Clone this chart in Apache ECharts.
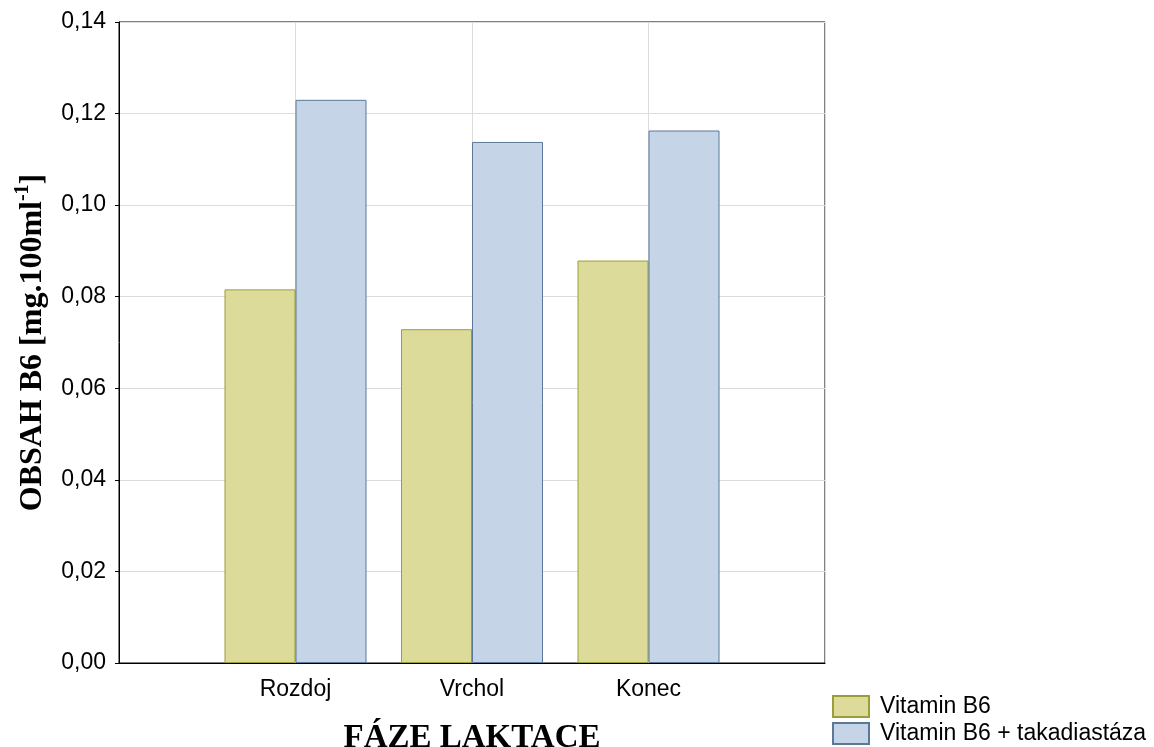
<!DOCTYPE html>
<html>
<head>
<meta charset="utf-8">
<script src="https://cdn.jsdelivr.net/npm/echarts@6/dist/echarts.min.js"></script>
<style>
  html, body { margin: 0; padding: 0; background: #fff; }
  #chart { width: 1154px; height: 747px; }
</style>
</head>
<body>
<div id="chart"></div>
<script>
// Lactation phases and vitamin B6 content (mg per 100 ml)
const categories = ['Rozdoj', 'Vrchol', 'Konec'];
const vitaminB6 = [0.0816, 0.0729, 0.0879];
const vitaminB6Taka = [0.1230, 0.1138, 0.1163];
const seriesNames = ['Vitamin B6', 'Vitamin B6 + takadiastáza'];
const yTicks = [0, 0.02, 0.04, 0.06, 0.08, 0.10, 0.12, 0.14];

// Categories sit at positions 1..n on a 0..n+1 value axis
const pos = categories.map((c, i) => i + 1);

const sans = 'Liberation Sans, Arial, sans-serif';
const serif = 'Liberation Serif, Times New Roman, serif';
const colors = [
  { color: '#dddb99', borderColor: '#9c9c38' },
  { color: '#c5d5e7', borderColor: '#5b7898' }
];

// One legend block per series, stacked in the lower right corner
const legendTops = [695, 722];
const legends = seriesNames.map((name, i) => ({
  left: 832, top: legendTops[i],
  padding: 0,
  icon: 'rect',
  itemWidth: 36, itemHeight: 21,
  textStyle: { fontSize: 23, color: '#000', fontFamily: sans, padding: [0, 0, 0, 6] },
  data: [name]
}));

const chart = echarts.init(document.getElementById('chart'));
chart.setOption({
  animation: false,
  backgroundColor: '#fff',
  textStyle: { fontFamily: sans },
  grid: {
    left: 119, right: 329, top: 22, bottom: 84,
    show: true, borderColor: '#000', borderWidth: 1,
    containLabel: false, outerBoundsMode: 'none'
  },
  legend: legends,
  xAxis: {
    type: 'value',
    min: 0, max: categories.length + 1, interval: 1,
    name: 'FÁZE LAKTACE',
    nameLocation: 'middle',
    nameGap: 59,
    nameMoveOverlap: false,
    nameTextStyle: { fontFamily: serif, fontWeight: 'bold', fontSize: 33, color: '#000' },
    axisLine: { lineStyle: { color: '#000', width: 1 } },
    axisTick: { show: false },
    axisLabel: {
      fontSize: 23, color: '#000', margin: 15,
      formatter: v => categories[v - 1] || ''
    },
    splitLine: { show: true, lineStyle: { color: '#dcdcdc', width: 1 } }
  },
  yAxis: {
    type: 'value',
    min: yTicks[0], max: yTicks[yTicks.length - 1], interval: 0.02,
    name: '{a|OBSAH B6 [mg.100ml}{s|-1}{a|]}',
    nameLocation: 'middle',
    nameGap: 70,
    nameMoveOverlap: false,
    nameTextStyle: {
      color: '#000',
      rich: {
        a: { fontFamily: serif, fontWeight: 'bold', fontSize: 32, color: '#000', lineHeight: 36, verticalAlign: 'bottom' },
        s: { fontFamily: serif, fontWeight: 'bold', fontSize: 20, color: '#000', lineHeight: 36, verticalAlign: 'top', padding: [0, 0, 14, 0] }
      }
    },
    axisLine: { show: true, lineStyle: { color: '#000', width: 1 } },
    axisTick: { show: true, inside: false, length: 4, lineStyle: { color: '#000' } },
    axisLabel: {
      fontSize: 23, color: '#000', margin: 13,
      formatter: v => v.toFixed(2).replace('.', ',')
    },
    splitLine: { show: true, lineStyle: { color: '#dcdcdc', width: 1 } }
  },
  series: seriesNames.map((name, s) => ({
    name,
    type: 'bar',
    barWidth: 71,
    barGap: '0%',
    itemStyle: Object.assign({ borderWidth: 1 }, colors[s]),
    data: pos.map((p, i) => [p, (s === 0 ? vitaminB6 : vitaminB6Taka)[i]])
  }))
});
</script>
</body>
</html>
